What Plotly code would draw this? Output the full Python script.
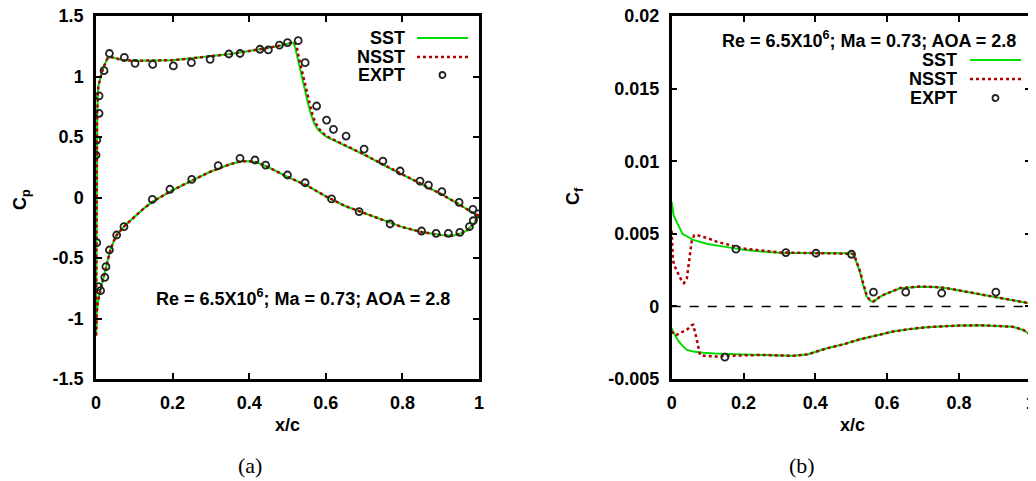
import plotly.graph_objects as go

# ---------------- Panel (a): Cp ----------------
sst_up_x = [0, 0.001, 0.003, 0.006, 0.01, 0.015, 0.02, 0.03, 0.04, 0.05, 0.07, 0.1, 0.15, 0.2, 0.25, 0.3,
            0.35, 0.4, 0.45, 0.48, 0.5, 0.51, 0.515, 0.52, 0.525, 0.53, 0.535, 0.54, 0.545, 0.55, 0.555,
            0.56, 0.565, 0.57, 0.58, 0.59, 0.6, 0.62, 0.65, 0.7, 0.75, 0.8, 0.85, 0.9, 0.95, 0.98, 1.0]
sst_up_cp = [-1.14, 0.2, 0.7, 0.92, 0.98, 1.03, 1.08, 1.15, 1.16, 1.15, 1.135, 1.13, 1.13, 1.135, 1.15, 1.165,
             1.185, 1.21, 1.235, 1.255, 1.27, 1.28, 1.28, 1.24, 1.17, 1.09, 1.02, 0.96, 0.90, 0.83, 0.76,
             0.70, 0.65, 0.61, 0.56, 0.53, 0.505, 0.475, 0.43, 0.355, 0.27, 0.19, 0.115, 0.03, -0.06, -0.12, -0.15]
nsst_up_cp = [-1.14, 0.2, 0.7, 0.92, 0.98, 1.03, 1.08, 1.15, 1.16, 1.15, 1.135, 1.13, 1.13, 1.135, 1.15, 1.165,
              1.185, 1.21, 1.235, 1.255, 1.27, 1.28, 1.285, 1.28, 1.23, 1.15, 1.08, 1.01, 0.95, 0.88, 0.81,
              0.75, 0.69, 0.64, 0.575, 0.54, 0.51, 0.478, 0.432, 0.356, 0.272, 0.19, 0.115, 0.03, -0.06, -0.12, -0.15]

sst_lo_x = [0, 0.002, 0.005, 0.01, 0.015, 0.02, 0.027, 0.036, 0.045, 0.054, 0.065, 0.073, 0.09, 0.1, 0.125,
            0.15, 0.2, 0.25, 0.3, 0.35, 0.38, 0.4, 0.42, 0.45, 0.5, 0.55, 0.6, 0.65, 0.7, 0.75, 0.8, 0.85,
            0.9, 0.93, 0.95, 0.97, 0.99, 1.0]
sst_lo_cp = [-1.14, -0.95, -0.86, -0.78, -0.72, -0.66, -0.57, -0.45, -0.37, -0.31, -0.27, -0.24, -0.19, -0.16, -0.09,
             -0.03, 0.06, 0.14, 0.215, 0.275, 0.30, 0.30, 0.29, 0.25, 0.17, 0.10, 0.01, -0.07, -0.13, -0.19, -0.245, -0.285,
             -0.31, -0.315, -0.30, -0.27, -0.20, -0.15]
nsst_lo_cp = [-1.14, -0.95, -0.86, -0.78, -0.72, -0.66, -0.57, -0.45, -0.37, -0.31, -0.27, -0.24, -0.19, -0.16, -0.09,
              -0.03, 0.06, 0.14, 0.215, 0.275, 0.30, 0.30, 0.29, 0.25, 0.17, 0.10, 0.01, -0.07, -0.13, -0.19, -0.245, -0.285,
              -0.31, -0.315, -0.30, -0.27, -0.20, -0.15]

expt_cp_x = [0, 0.002, 0.008, 0.008, 0.021, 0.035, 0.074, 0.102, 0.148, 0.202, 0.249, 0.298, 0.347, 0.376,
             0.428, 0.45, 0.479, 0.50, 0.528, 0.546, 0.576, 0.602, 0.62, 0.653, 0.70, 0.749, 0.794, 0.846,
             0.868, 0.903, 0.948, 0.984, 0.998,
             0.002, 0.006, 0.012, 0.023, 0.026, 0.035, 0.054, 0.073, 0.147, 0.193, 0.25, 0.319, 0.376, 0.415,
             0.443, 0.50, 0.546, 0.615, 0.687, 0.768, 0.85, 0.888, 0.92, 0.95, 0.975, 0.985]
expt_cp = [0.351, 0.475, 0.696, 0.84, 1.048, 1.19, 1.158, 1.109, 1.10, 1.087, 1.114, 1.142, 1.186, 1.19,
           1.225, 1.22, 1.26, 1.28, 1.296, 1.114, 0.756, 0.64, 0.563, 0.508, 0.40, 0.30, 0.219, 0.136,
           0.103, 0.048, -0.04, -0.098, -0.136,
           -0.373, -0.737, -0.77, -0.66, -0.572, -0.434, -0.31, -0.241, -0.015, 0.068, 0.15, 0.263, 0.324, 0.31,
           0.268, 0.186, 0.122, -0.012, -0.117, -0.219, -0.277, -0.296, -0.296, -0.288, -0.241, -0.192]

# ---------------- Panel (b): Cf ----------------
sst_cf_up_x = [0, 0.005, 0.014, 0.03, 0.06, 0.1, 0.15, 0.2, 0.25, 0.3, 0.35, 0.4, 0.45, 0.495, 0.505, 0.511,
               0.518, 0.525, 0.532, 0.538, 0.543, 0.55, 0.556, 0.562, 0.57, 0.58, 0.59, 0.61, 0.636, 0.69,
               0.73, 0.766, 0.8, 0.86, 0.915, 0.96, 1.0]
sst_cf_up = [0.0072, 0.0063, 0.0058, 0.0050, 0.00458, 0.0043, 0.0041, 0.0039, 0.00378, 0.0037, 0.00368, 0.00366,
             0.00366, 0.00366, 0.0036, 0.0033, 0.0028, 0.0023, 0.0016, 0.0011, 0.0007, 0.00045, 0.00035, 0.00033,
             0.0005, 0.00065, 0.00079, 0.001, 0.00125, 0.00136, 0.00133, 0.00125, 0.0011, 0.00079, 0.00056, 0.0004, 0.0002]

nsst_cf_up_x = [0, 0.003, 0.0064, 0.015, 0.025, 0.034, 0.042, 0.05, 0.056, 0.063, 0.07, 0.085, 0.1, 0.125,
                0.15, 0.181, 0.2, 0.255, 0.3, 0.35, 0.4, 0.45, 0.495, 0.505, 0.511, 0.518, 0.525, 0.532, 0.538,
                0.543, 0.55, 0.556, 0.562, 0.57, 0.58, 0.59, 0.61, 0.636, 0.69, 0.73, 0.766, 0.8, 0.86, 0.915, 0.96, 1.0]
nsst_cf_up = [0.0052, 0.0033, 0.00286, 0.0024, 0.0019, 0.0016, 0.0019, 0.0034, 0.00458, 0.0049, 0.00492, 0.0048,
              0.0047, 0.00446, 0.0043, 0.00412, 0.00398, 0.00384, 0.00372, 0.00369, 0.00367, 0.00367, 0.00367,
              0.00362, 0.00335, 0.0029, 0.0024, 0.0017, 0.0012, 0.0008, 0.0005, 0.00038, 0.00034, 0.0005, 0.00066,
              0.0008, 0.00101, 0.00126, 0.00137, 0.00134, 0.00126, 0.00111, 0.0008, 0.00057, 0.0004, 0.0002]

sst_cf_lo_x = [0, 0.003, 0.01, 0.019, 0.03, 0.042, 0.06, 0.088, 0.12, 0.162, 0.2, 0.255, 0.3, 0.34, 0.38, 0.43,
               0.48, 0.525, 0.57, 0.617, 0.66, 0.71, 0.76, 0.8, 0.86, 0.915, 0.95, 0.979, 0.99, 1.0]
sst_cf_lo = [-0.0015, -0.0017, -0.0020, -0.0024, -0.0027, -0.0030, -0.0031, -0.0032, -0.00325, -0.0033, -0.00332,
             -0.00334, -0.00338, -0.0034, -0.0033, -0.0029, -0.0026, -0.00226, -0.002, -0.00173, -0.00157, -0.00143,
             -0.00137, -0.00132, -0.0013, -0.00134, -0.0014, -0.00162, -0.0018, -0.00196]

nsst_cf_lo_x = [0, 0.005, 0.014, 0.025, 0.042, 0.055, 0.06, 0.065, 0.07, 0.075, 0.079, 0.09, 0.125, 0.16, 0.2,
                0.255, 0.3, 0.34, 0.38, 0.43, 0.48, 0.525, 0.57, 0.617, 0.66, 0.71, 0.76, 0.8, 0.86, 0.915, 0.95,
                0.979, 0.99, 1.0]
nsst_cf_lo = [-0.0017, -0.0019, -0.00196, -0.0018, -0.00162, -0.0013, -0.00127, -0.0017, -0.0023, -0.0029, -0.00334,
              -0.0034, -0.00345, -0.0034, -0.00336, -0.00334, -0.00338, -0.0034, -0.0033, -0.0029, -0.0026, -0.00226,
              -0.002, -0.00173, -0.00157, -0.00143, -0.00137, -0.00132, -0.0013, -0.00134, -0.0014, -0.00162,
              -0.0018, -0.00196]

expt_cf_x = [0.148, 0.179, 0.318, 0.402, 0.501, 0.562, 0.652, 0.752, 0.903]
expt_cf = [-0.0035, 0.00394, 0.00371, 0.00366, 0.00359, 0.00098, 0.00098, 0.00091, 0.00098]

# ---------------- Tick labels ----------------
x_ticks = [0, 0.2, 0.4, 0.6, 0.8, 1]
x_ticktext = ["0", "0.2", "0.4", "0.6", "0.8", "1"]
cp_ticks = [-1.5, -1, -0.5, 0, 0.5, 1, 1.5]
cp_ticktext = ["-1.5", "-1", "-0.5", "0", "0.5", "1", "1.5"]
cf_ticks = [-0.005, 0, 0.005, 0.01, 0.015, 0.02]
cf_ticktext = ["-0.005", "0", "0.005", "0.01", "0.015", "0.02"]

legend_names = ["SST", "NSST", "EXPT"]
cond_text = "Re = 6.5X10<sup>6</sup>; Ma = 0.73; AOA = 2.8"

GREEN = "#00dd00"
RED = "#b00000"
FONT = "Liberation Sans, Arial, sans-serif"
FS = 18

fig = go.Figure()

def add_lines(xa, ya, xs, ys, color, dash, width):
    fig.add_trace(go.Scatter(x=xs, y=ys, mode="lines", xaxis=xa, yaxis=ya, showlegend=False,
                             line=dict(color=color, dash=dash, width=width)))

# panel a
add_lines("x", "y", sst_up_x, sst_up_cp, GREEN, "solid", 2)
add_lines("x", "y", sst_lo_x, sst_lo_cp, GREEN, "solid", 2)
add_lines("x", "y", sst_up_x, nsst_up_cp, RED, "dot", 2.5)
add_lines("x", "y", sst_lo_x, nsst_lo_cp, RED, "dot", 2.5)
fig.add_trace(go.Scatter(x=expt_cp_x, y=expt_cp, mode="markers", xaxis="x", yaxis="y", showlegend=False,
                         marker=dict(symbol="circle-open", size=7, color="#222222", line=dict(width=1.8))))
# panel b
add_lines("x2", "y2", sst_cf_up_x, sst_cf_up, GREEN, "solid", 2)
add_lines("x2", "y2", sst_cf_lo_x, sst_cf_lo, GREEN, "solid", 2)
add_lines("x2", "y2", nsst_cf_up_x, nsst_cf_up, RED, "dot", 2.5)
add_lines("x2", "y2", nsst_cf_lo_x, nsst_cf_lo, RED, "dot", 2.5)
fig.add_trace(go.Scatter(x=expt_cf_x, y=expt_cf, mode="markers", xaxis="x2", yaxis="y2", showlegend=False,
                         marker=dict(symbol="circle-open", size=7, color="#222222", line=dict(width=1.8))))

# the page body adds an 8px margin; size the figure so that it ends at the window edge
OFF = 8
W, H = 1036 - OFF, 481 - OFF

def px(x):
    return (x - OFF) / W

def py(y):
    return 1 - (y - OFF) / H

axis_common = dict(showline=True, linecolor="black", linewidth=2.5, mirror="ticks", ticks="inside",
                   ticklen=6, tickwidth=1.5, tickcolor="black", showgrid=False, zeroline=False,
                   automargin=False, ticklabeloverflow="allow",
                   tickfont=dict(family=FONT, size=FS, color="black", weight="bold"), ticklabelstandoff=6)

fig.update_layout(
    width=W, height=H, margin=dict(l=0, r=0, t=0, b=0, autoexpand=False),
    paper_bgcolor="white", plot_bgcolor="white", showlegend=False,
    xaxis=dict(domain=[px(96), px(479)], range=[0, 1], tickvals=x_ticks, ticktext=x_ticktext,
               anchor="y", **axis_common),
    yaxis=dict(domain=[py(379), py(16)], range=[-1.5, 1.5], tickvals=cp_ticks, ticktext=cp_ticktext,
               anchor="x", **axis_common),
    xaxis2=dict(domain=[px(671.7), min(1.0, px(1030.7))], range=[0, 1], tickvals=x_ticks, ticktext=x_ticktext,
                anchor="y2", **axis_common),
    yaxis2=dict(domain=[py(379), py(16)], range=[-0.005, 0.02], tickvals=cf_ticks, ticktext=cf_ticktext,
                anchor="x2", **axis_common),
)

# zero reference line in panel b
fig.add_shape(type="line", xref="x2 domain", yref="y2", x0=0, x1=1, y0=0, y1=0,
              line=dict(color="black", width=1.5, dash="dash"))

ann_font = dict(family=FONT, size=FS, color="black", weight="bold")

def ann(x, y, text, xanchor="center", font=ann_font, angle=0):
    fig.add_annotation(x=px(x), y=py(y), xref="paper", yref="paper", text=text, showarrow=False,
                       xanchor=xanchor, yanchor="middle", font=font, textangle=angle)

# conditions
ann(303, 297, cond_text)
ann(869, 40, cond_text)
# axis titles
ann(287, 425, "x/c")
ann(852, 425, "x/c")
ann(22, 200, "C<sub>p</sub>", angle=-90)
ann(574, 196, "C<sub>f</sub>", angle=-90)
# panel labels
serif = dict(family="Liberation Serif, Times New Roman, serif", size=22, color="black")
ann(250, 465, "(a)", font=serif)
ann(802, 465, "(b)", font=serif)

# custom legends (text left, sample right)
def legend(text_right, rows, x0, x1):
    for name, yy in zip(legend_names, rows):
        ann(text_right, yy, name, xanchor="right")
    fig.add_shape(type="line", xref="paper", yref="paper", x0=px(x0), x1=px(x1), y0=py(rows[0]), y1=py(rows[0]),
                  line=dict(color=GREEN, width=2))
    fig.add_shape(type="line", xref="paper", yref="paper", x0=px(x0), x1=px(x1), y0=py(rows[1]), y1=py(rows[1]),
                  line=dict(color=RED, width=2.5, dash="dot"))
    cx = (x0 + x1) / 2
    fig.add_shape(type="circle", xref="paper", yref="paper", x0=px(cx - 3), x1=px(cx + 3),
                  y0=py(rows[2] + 3), y1=py(rows[2] - 3), line=dict(color="#222222", width=1.8))

legend(407, [38, 57, 75], 417, 468)
legend(959, [60, 79, 98], 970, 1021)

fig.write_html("out.html")
